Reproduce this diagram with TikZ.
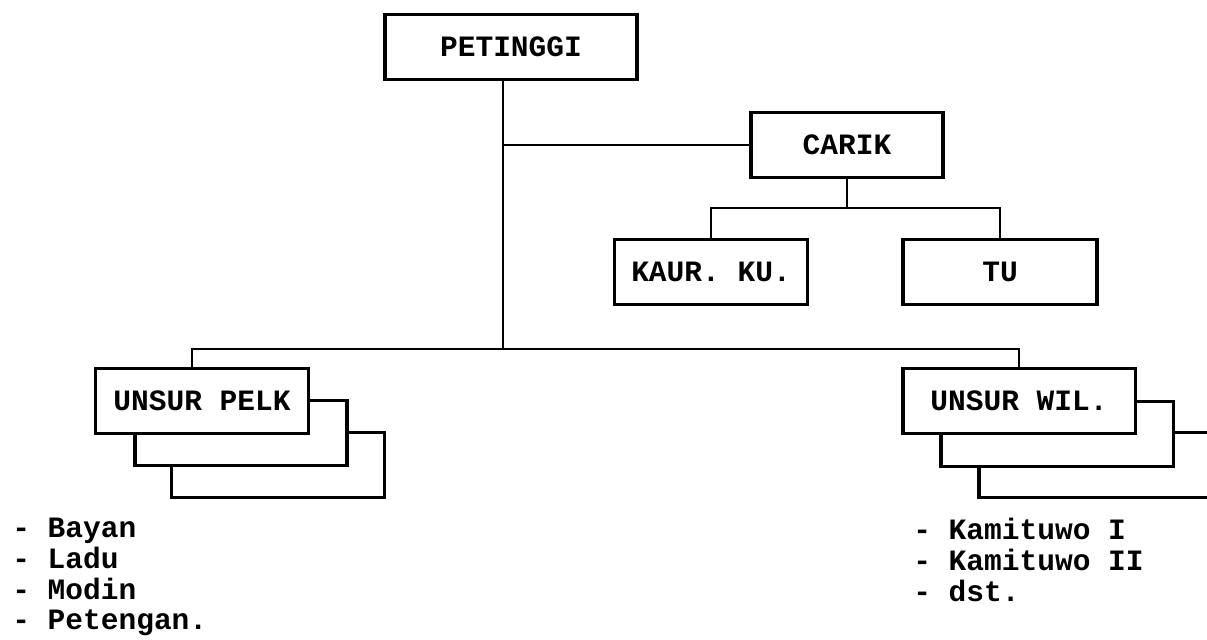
\documentclass[tikz,border=0pt]{standalone}
\usepackage{fontspec}
\setmonofont{Liberation Mono}
\usepackage{tikz}
\usetikzlibrary{positioning}
\newcommand{\ketik}{\ttfamily\bfseries\fontsize{21}{21.8}\selectfont}

\begin{document}
\begin{tikzpicture}[
  x=0.025cm, y=-0.025cm,
  unit/.style={draw, line width=2.2pt, fill=white, font=\ketik, inner sep=0pt, minimum height=1.62cm},
  link/.style={line width=1.3pt},
  daftar/.style={font=\ketik, align=left, anchor=north west, inner sep=0pt}
]
\clip (0,0) rectangle (1207,639);
\fill[white] (0,0) rectangle (1207,639);

\node[unit, minimum width=6.3cm] (petinggi) at (511,47) {PETINGGI};
\node[unit, minimum width=4.8cm] (carik) at (847,145) {CARIK};
\node[unit, minimum width=4.83cm] (kaur) at (711,272) {KAUR. KU.};
\node[unit, minimum width=4.85cm] (tu) at (1000,272) {TU};

\node[unit, minimum width=5.33cm] (pelk3) at (278,465) {};
\node[unit, minimum width=5.3cm] (pelk2) at (241,433) {};
\node[unit, minimum width=5.33cm] (pelk) at (202,401) {UNSUR PELK};

\node[unit, minimum width=5.9cm] (wil3) at (1097,465) {};
\node[unit, minimum width=5.8cm] (wil2) at (1057,434) {};
\node[unit, minimum width=5.8cm] (wil) at (1019,401) {UNSUR WIL.};

\coordinate (trunk) at (503,349);
\coordinate (bar) at (847,208);

\draw[link] (petinggi.south -| trunk) -- (trunk);
\draw[link] (carik.west -| trunk) -- (carik.west);
\draw[link] (carik.south) -- (bar);
\draw[link] (kaur.north) |- (bar) -| (tu.north);
\draw[link] ([xshift=-0.24cm]pelk.north) |- (trunk) -| (wil.north);

\node[daftar] (tugas) at (12,518) {- Bayan\\- Ladu\\- Modin\\- Petengan.};
\node[daftar] (wilayah) at (913,518) {- Kamituwo I\\- Kamituwo II\\- dst.};

\end{tikzpicture}
\end{document}
